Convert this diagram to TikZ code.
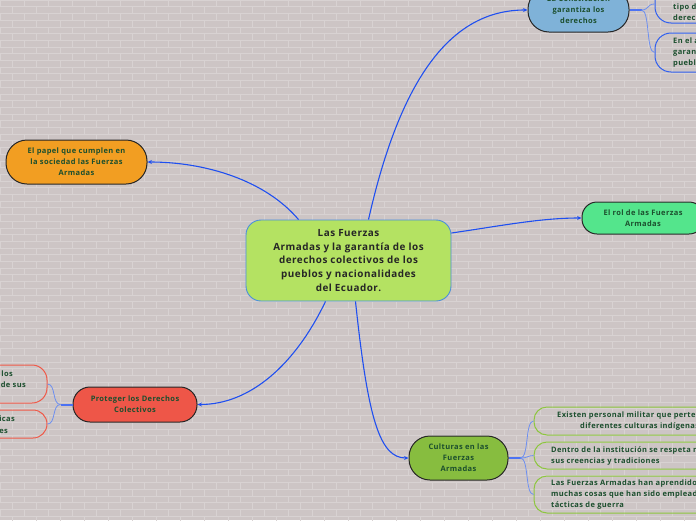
\documentclass[tikz,border=0pt]{standalone}
\usepackage{fontspec}
\setmainfont{Open Sans}[LetterSpace=5]
\usetikzlibrary{arrows.meta,calc}
\definecolor{bg}{HTML}{CDC5C5}
\definecolor{brickline}{HTML}{D8D2D2}
\definecolor{txtgreen}{HTML}{1C4F2E}
\definecolor{conncol}{HTML}{1F4FF0}
\definecolor{branchcol}{HTML}{6D8FF0}
\definecolor{mainfill}{HTML}{B4E262}
\definecolor{mainborder}{HTML}{4A8FDC}
\definecolor{constfill}{HTML}{7FB2D8}
\definecolor{papelfill}{HTML}{F29E22}
\definecolor{rolfill}{HTML}{54E58C}
\definecolor{protfill}{HTML}{EE5648}
\definecolor{cultfill}{HTML}{87BD3F}
\definecolor{blueborder}{HTML}{2F5FF0}
\definecolor{redborder}{HTML}{EF5A4A}
\definecolor{greenborder}{HTML}{8DC63F}
\tikzset{
  brick/.style={draw=brickline,line width=0.6pt},
  mainbox/.style={draw=mainborder,fill=mainfill,line width=0.9pt,rounded corners=15pt,
    minimum width=205pt,minimum height=81pt,inner sep=0pt,align=center,
    text=black!85,font=\bfseries\fontsize{9.9}{13.8}\selectfont},
  topicbox/.style={draw=black!85,line width=1pt,inner sep=0pt,align=center,
    text=txtgreen,font=\bfseries\fontsize{7.5}{11}\selectfont},
  childbox/.style={line width=1pt,inner sep=0pt,fill=none},
  childtxt/.style={inner sep=0pt,align=left,text=txtgreen,font=\bfseries\fontsize{7.5}{11}\selectfont},
  conn/.style={draw=conncol,line width=1.1pt,-{Stealth[length=4.5pt,width=4pt]}},
  stub/.style={draw=conncol!80!white,line width=2pt},
  branch/.style={draw=branchcol,line width=0.8pt},
}
\begin{document}
\begin{tikzpicture}[x=1pt,y=-1pt]
\useasboundingbox (0,0) rectangle (696,520);
\clip (0,0) rectangle (696,520);
\fill[bg] (0,0) rectangle (696,520);
\foreach \r in {0,...,78}{
  \draw[brick] (0,\r*6.7) -- (696,\r*6.7);
  \pgfmathsetmacro\off{mod(\r,2)*12}
  \foreach \c in {0,...,29}{
    \draw[brick] (\c*24+\off,\r*6.7) -- ++(0,6.7);
  }
}
% main node
\node[mainbox] (c) at (348.5,260.5) {Las Fuerzas\\Armadas y la garantía de los\\derechos colectivos de los\\pueblos y nacionalidades\\del Ecuador.};
% topics
\node[topicbox,fill=constfill,rounded corners=21pt,minimum width=101pt,minimum height=44pt] (k) at (578.5,10) {La Constitución\\garantiza los\\derechos};
\node[topicbox,fill=papelfill,rounded corners=21pt,minimum width=141pt,minimum height=44pt] (p) at (76.5,162) {El papel que cumplen en\\la sociedad las Fuerzas\\Armadas};
\node[topicbox,fill=rolfill,rounded corners=15pt,minimum width=122pt,minimum height=32pt] (r) at (643,218) {El rol de las Fuerzas\\Armadas};
\node[topicbox,fill=protfill,rounded corners=17pt,minimum width=124pt,minimum height=35pt] (pr) at (135,404.5) {Proteger los Derechos\\Colectivos};
\node[topicbox,fill=cultfill,rounded corners=21pt,minimum width=99pt,minimum height=44pt] (cu) at (458.5,458) {Culturas en las\\Fuerzas\\Armadas};
% child boxes
\node[childbox,draw=blueborder,rounded corners=16pt,minimum width=105pt,minimum height=38pt] (k1) at (707.5,4) {};
\node[childbox,draw=blueborder,rounded corners=16pt,minimum width=105pt,minimum height=39pt] (k2) at (707.5,52.5) {};
\node[childbox,draw=redborder,rounded corners=15pt,minimum width=107pt,minimum height=38pt] (r1) at (-6.5,384) {};
\node[childbox,draw=redborder,rounded corners=14pt,minimum width=107pt,minimum height=28pt] (r2) at (-6.5,424) {};
\node[childbox,draw=greenborder,rounded corners=13pt,minimum width=226pt,minimum height=28pt] (g1) at (647,421) {};
\node[childbox,draw=greenborder,rounded corners=13pt,minimum width=226pt,minimum height=27pt] (g2) at (647,455.5) {};
\node[childbox,draw=greenborder,rounded corners=13pt,minimum width=226pt,minimum height=37pt] (g3) at (647,494.5) {};
% child texts
\node[childtxt,anchor=west] (k1t) at (673,12.5) {tipo d\\derech};
\node[childtxt,anchor=west] (k2t) at (673,53) {En el a\\garan\\puebl};
\node[childtxt,anchor=east] (r1a) at (13,374) {los};
\node[childtxt,anchor=east] (r1b) at (26,385) {de sus};
\node[childtxt,anchor=east] (r2a) at (15,419) {icas};
\node[childtxt,anchor=east] (r2b) at (8,431) {es};
\node[childtxt,anchor=west] (g1a) at (557,416) {Existen personal militar que perten};
\node[childtxt,anchor=west] (g1b) at (580,427) {diferentes culturas indígenas};
\node[childtxt,anchor=west] (g2t) at (551,456) {Dentro de la institución se respeta m\\sus creencias y tradiciones};
\node[childtxt,anchor=west] (g3t) at (551,495) {Las Fuerzas Armadas han aprendido\\muchas cosas que han sido emplead\\tácticas de guerra};
% main connectors
\draw[conn] ($(c.north)+(20,0)$) .. controls (400,80) and (450,10) .. (k.west);
\draw[conn] ($(c.north)+(-50,0)$) .. controls (265,180) and (205,162) .. (p.east);
\draw[conn] ($(c.east)+(0,-27.5)$) .. controls (500,226) and (540,218) .. (r.west);
\draw[conn] ($(c.south)+(-23,0)$) .. controls (295,365) and (250,404.5) .. (pr.east);
\draw[conn] ($(c.south)+(7,0)$) .. controls (368,420) and (380,458) .. (cu.west);
% child connectors
\draw[stub] (k.east) -- ++(12,0) coordinate (kj);
\draw[branch] (kj) .. controls (649,10) and (647,4) .. (k1.west);
\draw[branch] (kj) .. controls (650,10) and (646,52.5) .. (k2.west);
\draw[stub] (pr.west) -- ++(-12,0) coordinate (pj);
\draw[branch] (pj) .. controls (52,404.5) and (56,384) .. (r1.east);
\draw[branch] (pj) .. controls (52,404.5) and (56,424) .. (r2.east);
\draw[stub] (cu.east) -- ++(12,0) coordinate (cj);
\draw[branch] (cj) .. controls (529,458) and (525,421) .. (g1.west);
\draw[branch] (cj) .. controls (528,458) and (528,455.5) .. (g2.west);
\draw[branch] (cj) .. controls (529,458) and (525,494.5) .. (g3.west);
\end{tikzpicture}
\end{document}
